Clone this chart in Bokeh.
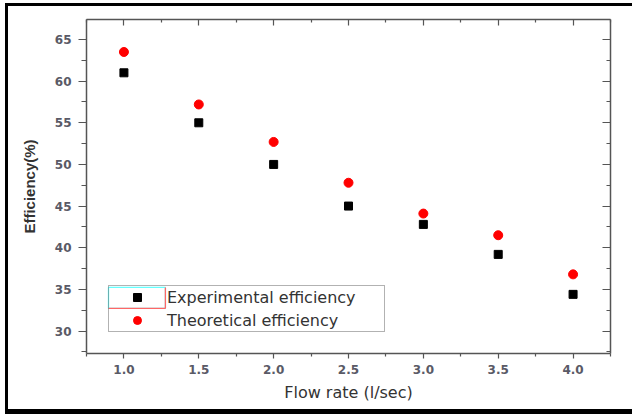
from bokeh.plotting import figure
from bokeh.layouts import column, row
from bokeh.models import (Range1d, FixedTicker, LinearAxis, Legend, LegendItem, Spacer,
                          BoxAnnotation, CustomJSTickFormatter, NumeralTickFormatter)
from bokeh.embed import file_html
from bokeh.resources import INLINE

# ---- data ----
flow_rate = [1.0, 1.5, 2.0, 2.5, 3.0, 3.5, 4.0]
experimental = [61.0, 55.0, 50.0, 45.0, 42.8, 39.2, 34.4]
theoretical = [63.5, 57.2, 52.7, 47.8, 44.1, 41.5, 36.8]

x_ticks = [1.0, 1.5, 2.0, 2.5, 3.0, 3.5, 4.0]
x_minor = [0.75, 1.25, 1.75, 2.25, 2.75, 3.25, 3.75, 4.25]
y_ticks = [30, 35, 40, 45, 50, 55, 60, 65]
y_minor = [27.5, 32.5, 37.5, 42.5, 47.5, 52.5, 57.5, 62.5]

AXIS_COLOR = "#555555"
TICK_LABEL_COLOR = "#5a5a66"

fig = figure(width=624, height=403,
             min_border_left=78, min_border_right=22, min_border_top=13, min_border_bottom=56,
             x_range=Range1d(0.75, 4.25), y_range=Range1d(27.3, 67.4),
             output_backend="svg", toolbar_location=None)
fig.grid.visible = False
fig.outline_line_color = None
fig.background_fill_color = "white"
fig.border_fill_color = "white"

r_exp = fig.scatter(flow_rate, experimental, marker="square", size=8,
                    fill_color="black", line_color="black")
r_theo = fig.scatter(flow_rate, theoretical, marker="circle", size=9,
                     fill_color="#ff0000", line_color="#ff0000")

xt = FixedTicker(ticks=x_ticks, minor_ticks=x_minor)
yt = FixedTicker(ticks=y_ticks, minor_ticks=y_minor)

xa = fig.xaxis[0]
xa.ticker = xt
xa.formatter = NumeralTickFormatter(format="0.0")
xa.axis_label = "Flow rate (l/sec)"
xa.axis_label_text_font = "DejaVu Sans"
xa.axis_label_text_font_size = "16px"
xa.axis_label_text_font_style = "normal"
xa.axis_label_text_color = "#333333"
xa.axis_label_standoff = 6
xa.major_label_text_font = "DejaVu Sans"
xa.major_label_text_font_size = "12px"
xa.major_label_text_font_style = "bold"
xa.major_label_text_color = TICK_LABEL_COLOR
xa.major_label_standoff = 6
xa.major_tick_out = 5
xa.major_tick_in = 0
xa.minor_tick_out = 3
xa.minor_tick_in = 0

ya = fig.yaxis[0]
ya.ticker = yt
ya.axis_label = "Efficiency(%)"
ya.axis_label_text_font = "Liberation Sans"
ya.axis_label_text_font_size = "15px"
ya.axis_label_text_font_style = "bold"
ya.axis_label_text_color = "#333333"
ya.axis_label_standoff = 14
ya.major_label_text_font = "DejaVu Sans"
ya.major_label_text_font_size = "12px"
ya.major_label_text_font_style = "bold"
ya.major_label_text_color = TICK_LABEL_COLOR
ya.major_label_standoff = 7
ya.major_tick_out = 8
ya.major_tick_in = 0
ya.minor_tick_out = 5
ya.minor_tick_in = 0

for ax in (xa, ya):
    ax.axis_line_color = AXIS_COLOR
    ax.axis_line_width = 1.5
    ax.major_tick_line_color = AXIS_COLOR
    ax.minor_tick_line_color = AXIS_COLOR
    ax.major_tick_line_width = 1.2
    ax.minor_tick_line_width = 1.2

blank = CustomJSTickFormatter(code="return ''")
top = LinearAxis(ticker=xt, formatter=blank, major_tick_in=6, major_tick_out=0,
                 minor_tick_in=3, minor_tick_out=0, major_label_standoff=0)
right = LinearAxis(ticker=yt, formatter=blank, major_tick_in=8, major_tick_out=0,
                   minor_tick_in=4, minor_tick_out=0, major_label_standoff=0)
for ax in (top, right):
    ax.axis_line_color = AXIS_COLOR
    ax.axis_line_width = 1.5
    ax.major_tick_line_color = AXIS_COLOR
    ax.minor_tick_line_color = AXIS_COLOR
    ax.major_tick_line_width = 1.2
    ax.minor_tick_line_width = 1.2
fig.add_layout(top, "above")
fig.add_layout(right, "right")

legend = Legend(items=[LegendItem(label="Experimental efficiency", renderers=[r_exp]),
                       LegendItem(label="Theoretical efficiency", renderers=[r_theo])],
                location=(22, 21), margin=0, padding=1, spacing=3,
                glyph_width=54, glyph_height=20, label_height=20, label_width=216,
                label_standoff=3,
                label_text_font="DejaVu Sans", label_text_font_size="16px",
                label_text_color="#333333",
                border_line_color="#666666", border_line_width=1.5,
                background_fill_alpha=0)
fig.add_layout(legend)

# legend selection artifact (cyan/red box around the first legend glyph), in data units
art_left, art_right, art_top, art_bottom = 0.897, 1.277, 35.23, 32.71
fig.add_layout(BoxAnnotation(left=art_left, right=art_right, top=art_top, bottom=art_bottom,
                             fill_alpha=0, line_color="#66ffff", line_alpha=1, line_width=1.3))
fig.add_layout(BoxAnnotation(left=art_right, right=art_right, top=art_top, bottom=art_bottom,
                             fill_alpha=0, line_color="#ff6666", line_alpha=1, line_width=1.3))
fig.add_layout(BoxAnnotation(left=art_left, right=art_right, top=art_bottom, bottom=art_bottom,
                             fill_alpha=0, line_color="#ff6666", line_alpha=1, line_width=1.3))

# outer black frame of the picture, built from spacers
def bar(w, h, color):
    return Spacer(width=w, height=h, styles={"background-color": color})

p = column(bar(632, 3, "white"),
           row(bar(5, 411, "white"), bar(3, 411, "black"),
               column(bar(624, 3, "black"), fig, bar(624, 5, "black"), spacing=0),
               spacing=0),
           spacing=0)

open("out.html", "w").write(file_html(p, INLINE))
